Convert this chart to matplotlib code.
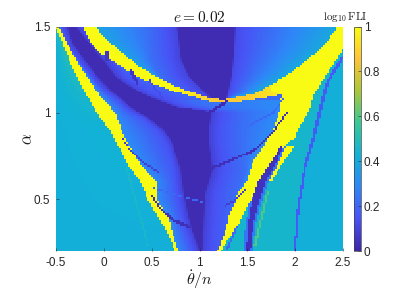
import numpy as np
import matplotlib
matplotlib.use("Agg")
import matplotlib.pyplot as plt
from matplotlib.colors import LinearSegmentedColormap

plt.rcParams['font.family'] = ['Liberation Sans', 'DejaVu Sans']
plt.rcParams['mathtext.fontset'] = 'cm'

x_ticks = [-0.5, 0, 0.5, 1, 1.5, 2, 2.5]
x_tick_labels = ['-0.5', '0', '0.5', '1', '1.5', '2', '2.5']
y_ticks = [0.5, 1, 1.5]
y_tick_labels = ['0.5', '1', '1.5']
c_ticks = [0, 0.2, 0.4, 0.6, 0.8, 1]
c_tick_labels = ['0', '0.2', '0.4', '0.6', '0.8', '1']

parula_colors = [(0.2422, 0.1504, 0.6603), (0.2810, 0.3228, 0.9579), (0.1786, 0.5289, 0.9682),
                 (0.0689, 0.6948, 0.8394), (0.2161, 0.7843, 0.5923), (0.6720, 0.7793, 0.2227),
                 (0.9970, 0.7659, 0.2199), (0.9769, 0.9839, 0.0805)]

# left yellow band: row alpha, outer edge, inner edge
band_a = [1.50, 1.40, 1.30, 1.20, 1.10, 1.00, 0.88, 0.70, 0.60, 0.50, 0.40, 0.30, 0.20]
band_outer = [-0.51, -0.43, -0.355, -0.27, -0.18, -0.07, 0.085, 0.25, 0.38, 0.46, 0.565, 0.67, 0.745]
band_inner = [-0.47, -0.385, -0.28, -0.165, -0.04, 0.115, 0.20, 0.38, 0.555, 0.555, 0.67, 0.72, 0.78]

# yellow arc over the interior: upper and lower edge by column
arc_top_x = [-0.09, 0.03, 0.38, 0.72, 1.08, 1.245, 1.60, 1.945, 2.29, 2.44, 2.55]
arc_top_a = [1.50, 1.42, 1.265, 1.16, 1.09, 1.074, 1.115, 1.23, 1.38, 1.49, 1.56]
arc_bot_x = [-0.22, -0.145, -0.01, 0.38, 0.72, 1.08, 1.20, 1.50, 1.75, 1.87, 2.50]
arc_bot_a = [1.50, 1.405, 1.335, 1.20, 1.128, 1.07, 1.055, 1.07, 1.095, 1.11, 1.11]
arc_val_x = [-0.22, 0.70, 0.90, 1.20, 1.50, 1.80, 2.00]
arc_val = [1.0, 1.0, 0.95, 0.86, 0.88, 0.95, 1.0]

# dark region below the arc, by row
dark_a = [1.50, 1.40, 1.306, 1.208, 1.115, 1.074, 1.034, 1.005, 0.97, 0.90, 0.843, 0.802, 0.669, 0.536, 0.339, 0.206]
dark_l = [-0.40, -0.33, -0.21, -0.07, 0.09, 0.19, 0.27, 0.34, 0.46, 0.62, 0.69, 0.723, 0.796, 0.827, 0.90, 0.984]
dark_r = [-0.30, -0.16, -0.01, 0.12, 0.378, 0.56, 0.74, 1.12, 1.11, 1.09, 1.09, 1.10, 1.13, 1.057, 1.037, 1.026]

# left limit of the gradient's right side, above the vertex
under_a = [1.50, 1.405, 1.335, 1.20, 1.128, 1.08]
under_x = [-0.22, -0.145, -0.01, 0.38, 0.72, 1.00]

# dark region above the arc, by row
top_a = [1.50, 1.31, 1.21, 1.13, 1.08]
top_l = [0.76, 0.80, 0.88, 1.03, 1.12]
top_r = [1.37, 1.35, 1.33, 1.30, 1.28]

# right yellow wedge, by row
wedge_a = [1.50, 1.38, 1.21, 1.13, 1.10, 1.01, 0.91, 0.86, 0.80, 0.71, 0.61, 0.536, 0.472, 0.397, 0.339, 0.264, 0.206]
wedge_l = [1.75, 1.75, 1.75, 1.75, 1.86, 1.84, 1.77, 1.72, 1.66, 1.55, 1.50, 1.40, 1.37, 1.30, 1.29, 1.235, 1.19]
wedge_r = [2.64, 2.52, 2.31, 2.22, 2.19, 2.15, 2.03, 2.00, 1.87, 1.76, 1.63, 1.58, 1.51, 1.44, 1.40, 1.30, 1.23]

# yellow branch right of the dark streak, by row
branch_a = [0.814, 0.74, 0.657, 0.61]
branch_r = [2.00, 1.91, 1.81, 1.76]

# dark streak inside the wedge, by row
streak_a = [0.814, 0.727, 0.61, 0.48, 0.339, 0.206]
streak_x = [1.87, 1.79, 1.66, 1.58, 1.53, 1.51]
streak_w = [0.012, 0.03, 0.04, 0.04, 0.03, 0.02]

# thin blue line on the far right, by row
line_a = [1.323, 1.173, 0.843, 0.68, 0.449, 0.217]
line_x = [2.50, 2.33, 2.186, 2.10, 2.03, 1.998]
line_w = [0.018, 0.018, 0.016, 0.014, 0.012, 0.011]

# fine row-wise lines: alpha, x
green_a = [0.68, 0.223]
green_x = [0.242, 0.461]
thin_a = [0.553, 0.223]
thin_x = [1.715, 1.58]
spot_a = [1.352, 1.295]
spot_x = [0.03, 0.03]
low_a = [0.339, 0.206]
low_x = [1.39, 1.29]

# fine column-wise streaks: x, alpha
sd_x = [0.20, 0.273, 0.399, 0.587]
sd_a = [0.854, 0.785, 0.715, 0.652]
se_x = [0.503, 0.587, 0.723, 0.90]
se_a = [0.524, 0.449, 0.38, 0.333]
sf_x = [0.514, 0.69, 1.037]
sf_a = [0.565, 0.536, 0.484]
sc_x = [1.266, 1.371, 1.476]
sc_a = [0.466, 0.495, 0.553]
sa_x = [1.13, 1.39, 1.60, 1.737, 1.925]
sa_a = [0.68, 0.738, 0.796, 0.871, 1.005]
sb_x = [1.53, 1.77, 1.89]
sb_a = [0.93, 1.00, 1.09]
sg_x = [0.273, 0.347]
sg_a = [1.254, 1.179]
sh_x = [0.482, 0.608]
sh_a = [1.19, 1.09]
tip_x = [1.10, 1.30]
tip_a = [1.00, 1.07]

# colour level of the outer field by row
outer_a = [1.50, 1.30, 1.10, 0.90, 0.20]
outer_near = [0.52, 0.50, 0.46, 0.43, 0.42]


def by_row(a, keys, vals):
    return np.interp(a, keys[::-1], vals[::-1])


nx, ny = 150, 115
X = np.linspace(-0.5, 2.5, nx)
Y = np.linspace(0.2, 1.5, ny)
XX, AA = np.meshgrid(X, Y)
top_edge = np.interp(X, arc_top_x, arc_top_a)
bot_edge = np.interp(X, arc_bot_x, arc_bot_a)
arc_level = np.interp(X, arc_val_x, arc_val)

Z = np.zeros((ny, nx))
for i, a in enumerate(Y):
    b_out = by_row(a, band_a, band_outer)
    b_in = by_row(a, band_a, band_inner)
    dl = by_row(a, dark_a, dark_l)
    dr = by_row(a, dark_a, dark_r)
    wl = by_row(a, wedge_a, wedge_l)
    wr = by_row(a, wedge_a, wedge_r)
    if a > 1.07:
        right, right_v = by_row(a, under_a, under_x), 0.2
    else:
        right, right_v = wl, 0.3
    right = max(right, dr + 0.13)
    left = min(b_in, dl - 0.07)
    nodes = [left, dl - 0.06, dl, dl + 0.015, dr, dr + 0.015, dr + 0.1, right]
    levels = [0.3, 0.15, 0.09, 0.02, 0.02, 0.09, 0.14, right_v]
    if a <= 1.07:
        nodes.insert(-1, max(dr + 0.35, dr + 0.11))
        levels.insert(-1, 0.22)
        if nodes[-2] >= nodes[-1]:
            nodes[-1] = nodes[-2] + 0.01
    row = np.interp(X, nodes, levels)
    if a > 1.07:
        tl = by_row(a, top_a, top_l)
        tr = by_row(a, top_a, top_r)
        xa = np.interp(-a, [-v for v in arc_top_a[:5]], arc_top_x[:5])
        xb = np.interp(a, arc_top_a[5:], arc_top_x[5:])
        up = np.interp(X, [xa, tl - 0.3, tl, tl + 0.015, tr, tr + 0.015, xb],
                       [0.38, 0.22, 0.10, 0.02, 0.02, 0.12, 0.40])
        row = np.where(a >= top_edge, up, row)
    Z[i] = row

    arc = (a < top_edge) & (a >= bot_edge)
    Z[i][arc] = arc_level[arc]

    near = by_row(a, outer_a, outer_near)
    left_out = X < b_out
    Z[i][left_out] = np.interp(X[left_out], [-0.5, b_out], [0.42, near])
    Z[i][(X >= b_out) & (X < b_in)] = 1.0

    lx = by_row(a, line_a, line_x)
    outside = (X >= wr) & (a < top_edge)
    Z[i][outside] = np.where(X[outside] < lx, 0.45, 0.42)
    Z[i][(X >= wl) & (X < wr) & (a < top_edge)] = 1.0

    if branch_a[-1] <= a <= branch_a[0]:
        sx = by_row(a, streak_a, streak_x)
        Z[i][(X >= sx) & (X < by_row(a, branch_a, branch_r))] = 1.0

    if a <= streak_a[0]:
        sx = by_row(a, streak_a, streak_x)
        sw = by_row(a, streak_a, streak_w)
        fringe = (np.abs(X - sx) < sw + 0.025) & (X >= wr)
        Z[i][fringe] = 0.24
        Z[i][np.abs(X - sx) < sw] = 0.04

    if a <= line_a[0]:
        lw = by_row(a, line_a, line_w)
        Z[i][np.abs(X - lx) < lw] = 0.17

    for keys, vals, val, w in [(green_a, green_x, 0.46, 0.011), (thin_a, thin_x, 0.6, 0.011),
                               (spot_a, spot_x, 0.05, 0.018), (low_a, low_x, 0.2, 0.011)]:
        if keys[-1] <= a <= keys[0]:
            Z[i][np.abs(X - by_row(a, keys, vals)) < w] = val

for sx_, sa_, val, w in [(sd_x, sd_a, 0.08, 0.006), (se_x, se_a, 0.03, 0.009), (sf_x, sf_a, 0.2, 0.004),
                         (sc_x, sc_a, 0.08, 0.006), (sa_x, sa_a, 0.03, 0.008), (sb_x, sb_a, 0.2, 0.006),
                         (sg_x, sg_a, 0.05, 0.018), (sh_x, sh_a, 0.12, 0.008), (tip_x, tip_a, 0.02, 0.01)]:
    col = (X >= sx_[0]) & (X <= sx_[-1])
    curve = np.interp(X, sx_, sa_)
    Z[(np.abs(AA - curve) < w) & col[None, :]] = val

cmap = LinearSegmentedColormap.from_list('parula', parula_colors, N=256)

fig = plt.figure(figsize=(4.15, 2.94), dpi=100)
W, H = 415.0, 294.0
ax = fig.add_axes([56 / W, (H - 251) / H, 287 / W, 224.5 / H])
mesh = ax.pcolormesh(X, Y, Z, cmap=cmap, vmin=0, vmax=1, shading='nearest', rasterized=True)
ax.set_xlim(-0.5, 2.5)
ax.set_ylim(0.2, 1.5)
ax.set_xticks(x_ticks, x_tick_labels)
ax.set_yticks(y_ticks, y_tick_labels)
ax.tick_params(direction='in', length=2.5, width=0.4, labelsize=8.5, colors='#262626', pad=4, top=False, right=False)
for s in ax.spines.values():
    s.set_visible(False)
ax.set_xlabel(r'$\dot{\theta}/n$', fontsize=11.5, labelpad=0, color='#1a1a1a')
ax.set_ylabel(r'$\alpha$', fontsize=12, labelpad=-1, color='#1a1a1a')
ax.set_title(r'$e=0.02$', fontsize=11, pad=3, color='#1a1a1a')

cax = fig.add_axes([353.5 / W, (H - 251) / H, 7.5 / W, 224.5 / H])
cb = fig.colorbar(mesh, cax=cax, ticks=c_ticks)
cb.set_ticklabels(c_tick_labels)
cb.ax.tick_params(direction='in', length=2, width=0.4, labelsize=8.5, colors='#262626', pad=2)
cb.outline.set_linewidth(0.5)
cb.outline.set_edgecolor('#404040')
fig.text(345 / W, (H - 17) / H, r'$\log_{10}\mathrm{FLI}$', fontsize=8, ha='center', va='center', color='#1a1a1a')

fig.savefig('out.png', dpi=100)
